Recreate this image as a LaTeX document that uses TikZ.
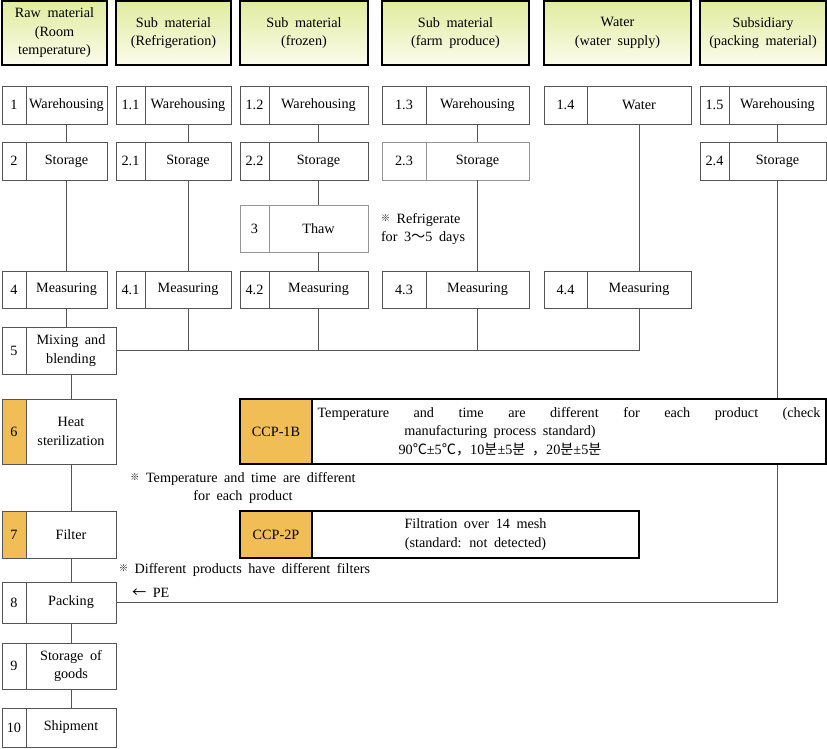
\documentclass[tikz,border=0pt]{standalone}
\usepackage{fontspec}
\setmainfont{Liberation Serif}[WordSpace=1.85]
\newfontfamily\kr{Noto Sans CJK KR}
\newcommand{\kome}{\raisebox{2pt}{\kr\fontsize{9}{9}\selectfont ※}}
\definecolor{hdtop}{RGB}{224,236,158}
\definecolor{hdbot}{RGB}{251,252,236}
\definecolor{ccporange}{RGB}{240,190,85}
\definecolor{boxline}{RGB}{85,85,85}
\definecolor{lightline}{RGB}{150,150,150}
\tikzset{
  header/.style={draw=black, line width=1.6pt, top color=hdtop, bottom color=hdbot, align=center, anchor=north west},
  cell/.style={draw=boxline, line width=0.8pt, fill=white, align=center, anchor=north west},
  ccpcell/.style={draw=black, line width=1.6pt, fill=ccporange, anchor=north west},
  descbox/.style={draw=black, line width=1.6pt, fill=white, align=center, anchor=north west},
  link/.style={draw=boxline, line width=0.8pt},
  note/.style={align=left, anchor=west},
}
\begin{document}
\begin{tikzpicture}[x=1pt,y=-1pt,
    every node/.style={font=\fontsize{14.2}{18.5}\selectfont, inner sep=0pt, outer sep=0pt}]
  \useasboundingbox (0,0) rectangle (827,748);
  %header
  \foreach \nm/\xa/\xb/\txt in {h1/2/107/{Raw material\\(Room\\temperature)},
      h2/116/231/{Sub material\\(Refrigeration)}, h3/240/368/{Sub material\\(frozen)},
      h4/382/529/{Sub material\\(farm produce)}, h5/544/691/{Water\\(water supply)},
      h6/700/826/{Subsidiary\\(packing material)}}
    \node[header, minimum width=\xb-\xa, minimum height=64] (\nm) at (\xa,1) {\txt};
  %steps
  \foreach \nm/\xa/\xd/\xb/\ya/\hh/\num/\txt/\fc/\lc in {
      1/2/26/107/86/38/1/Warehousing/white/boxline,
      11/116/145/231/86/38/1.1/Warehousing/white/boxline,
      12/240/269/368/86/38/1.2/Warehousing/white/boxline,
      13/382/426/529/86/38/1.3/Warehousing/white/boxline,
      14/544/587/691/86/38/1.4/Water/white/boxline,
      15/700/729/826/86/38/1.5/Warehousing/white/boxline,
      2/2/26/107/142/38/2/Storage/white/boxline,
      21/116/145/231/142/38/2.1/Storage/white/boxline,
      22/240/269/368/142/38/2.2/Storage/white/boxline,
      23/382/426/529/142/38/2.3/Storage/white/lightline,
      24/700/729/826/142/38/2.4/Storage/white/boxline,
      3/240/269/368/205/47/3/Thaw/white/lightline,
      4/2/26/107/271/37/4/Measuring/white/boxline,
      41/116/145/231/271/37/4.1/Measuring/white/boxline,
      42/240/269/368/271/37/4.2/Measuring/white/boxline,
      43/382/426/529/271/37/4.3/Measuring/white/boxline,
      44/544/587/691/271/37/4.4/Measuring/white/boxline,
      5/2/26/116/327/47/5/{Mixing and\\blending}/white/boxline,
      6/2/26/116/399/65/6/{Heat\\sterilization}/ccporange/boxline,
      7/2/26/116/511/47/7/Filter/ccporange/boxline,
      8/2/26/116/582/41/8/Packing/white/boxline,
      9/2/26/116/643/46/9/{Storage of\\goods}/white/boxline,
      10/2/26/116/708/39/10/Shipment/white/boxline}
  {
    \node[cell, fill=\fc, draw=\lc, minimum width=\xd-\xa, minimum height=\hh] (n\nm) at (\xa,\ya) {\num};
    \node[cell, draw=\lc, minimum width=\xb-\xd, minimum height=\hh] (t\nm) at (n\nm.north east) {\txt};
  }
  %lines
  \foreach \a/\b in {1/2,11/21,21/41,12/22,22/3,3/42,13/23,23/43,14/44,15/24,5/6,6/7,7/8,8/9,9/10}
    \draw[link] (t\a) -- (t\b);
  \draw[link] (t2.south) -- (t2.south |- t4.north);
  \draw[link] (t4.south) -- (t4.south |- t5.north);
  \draw[link] (t5.east) -- (t5.east -| t44.south);
  \foreach \m in {41,42,43,44}
    \draw[link] (t\m.south) -- (t\m.south |- t5.east);
  \draw[link] (t24.south) -- (t24.south |- t8.east) -- (t8.east);
  %ccp
  \node[ccpcell, minimum width=72, minimum height=65] (c1) at (240,399) {CCP-1B};
  \node[descbox, minimum width=514, minimum height=65] (d1) at (c1.north east)
    {\makebox[503pt][s]{Temperature and time are different for each product (check}\\
     \makebox[503pt]{\hspace*{-138pt}manufacturing process standard)}\\
     \makebox[503pt]{\hspace*{-138pt}90{\kr ℃}±5{\kr ℃，}10{\kr 분}±5{\kr 분} {\kr ，}20{\kr 분}±5{\kr 분}}};
  \node[ccpcell, minimum width=72, minimum height=47] (c2) at (240,511) {CCP-2P};
  \node[descbox, minimum width=327, minimum height=47] (d2) at (c2.north east)
    {Filtration over 14 mesh\\(standard: not detected)};
  %notes
  \node[note] (rnote) at (381,229) {\kome\ Refrigerate\\for 3{\kr ～}5 days};
  \node[align=center] (tnote) at (243,488) {\kome\ Temperature and time are different\\for each product};
  \node[note] (fnote) at (119,570) {\kome\ Different products have different filters};
  \node[note] (pe) at (132,593) {{\kr ←} PE};
\end{tikzpicture}
\end{document}
